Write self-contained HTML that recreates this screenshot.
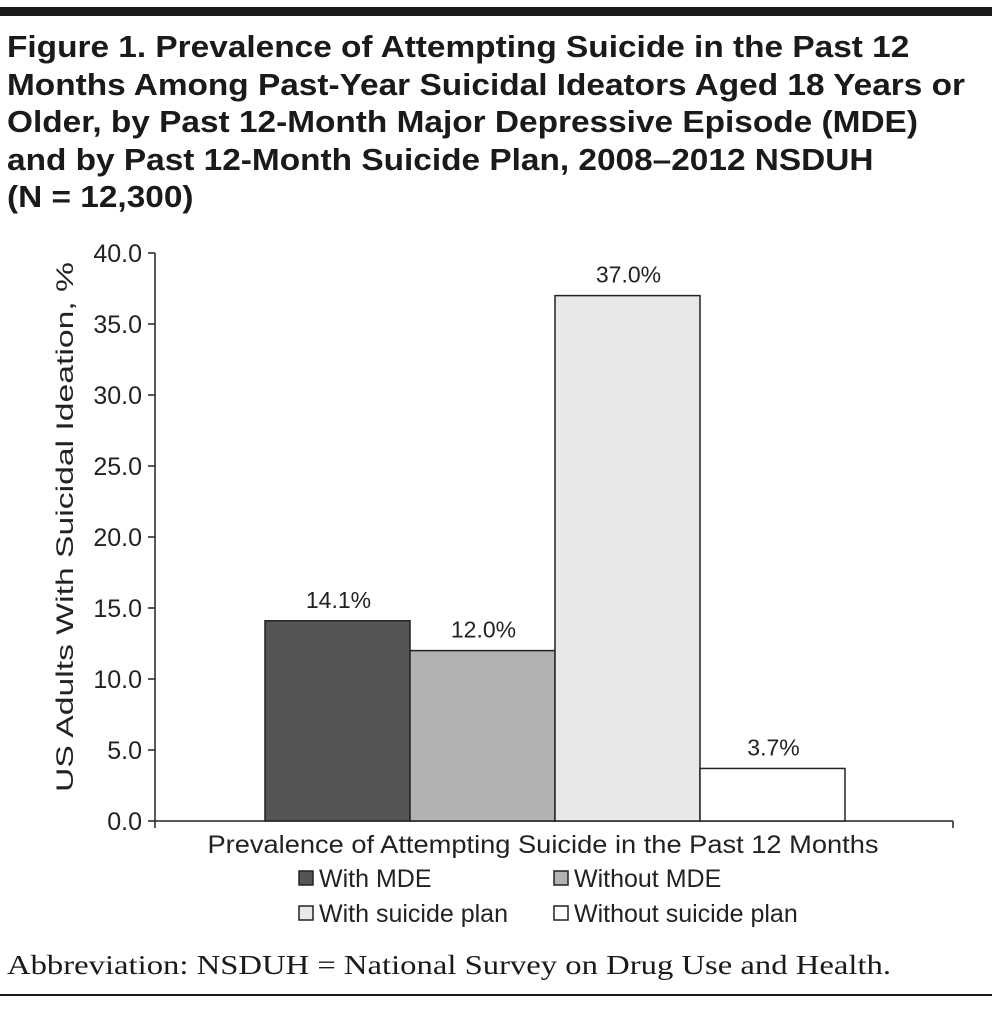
<!DOCTYPE html>
<html><head><meta charset="utf-8"><style>
body{margin:0;background:#fff;width:1001px;height:1011px;overflow:hidden;position:relative;font-family:"Liberation Sans",sans-serif}
.t{position:absolute;left:7px;top:28px;font-weight:bold;font-size:31px;line-height:37.5px;color:#1a1a1a;transform:scaleX(1.077);transform-origin:0 0;white-space:nowrap}
</style></head><body>
<div style="position:absolute;left:0;top:7px;width:992px;height:9px;background:#1a1a1a"></div>
<div class="t">Figure 1. Prevalence of Attempting Suicide in the Past 12<br>Months Among Past-Year Suicidal Ideators Aged 18 Years or<br>Older, by Past 12-Month Major Depressive Episode (MDE)<br>and by Past 12-Month Suicide Plan, 2008–2012 NSDUH<br>(N = 12,300)</div>
<svg id="c" width="1001" height="1011" style="position:absolute;left:0;top:0"></svg>
<div style="position:absolute;left:7px;top:950px;font-family:'Liberation Serif',serif;font-size:27px;color:#1a1a1a;transform:scaleX(1.21);transform-origin:0 0;white-space:nowrap">Abbreviation: NSDUH = National Survey on Drug Use and Health.</div>
<div style="position:absolute;left:0;top:994px;width:992px;height:2px;background:#1a1a1a"></div>
<script>
const categories=["With MDE","Without MDE","With suicide plan","Without suicide plan"];
const values=[14.1,12.0,37.0,3.7];
const colors=["#555555","#b2b2b2","#e8e8e8","#ffffff"];
const ticks=[0,5,10,15,20,25,30,35,40];
const svg=document.getElementById('c');const NS='http://www.w3.org/2000/svg';
function y(v){return 821-v*(568/40);}
function mk(t,a,txt){const e=document.createElementNS(NS,t);for(const k in a)e.setAttribute(k,a[k]);if(txt!=null)e.textContent=txt;svg.appendChild(e);return e;}
let e=mk('line',{x1:155,y1:253,x2:155,y2:822,stroke:'#222','stroke-width':1.5});

e=mk('line',{x1:155,y1:821,x2:953,y2:821,stroke:'#222','stroke-width':1.5});

[155,953].forEach(x=>{mk('line',{x1:x,y1:821,x2:x,y2:828,stroke:'#222','stroke-width':1.5});});
ticks.forEach(t=>{mk('line',{x1:148,y1:y(t),x2:155,y2:y(t),stroke:'#222','stroke-width':1.5});
e=mk('text',{x:142,y:y(t)+9,'text-anchor':'end','font-size':25,fill:'#222'},t.toFixed(1));
});
e=mk('text',{x:0,y:0,transform:'translate(73,527) rotate(-90)','text-anchor':'middle','font-size':24,fill:'#222',textLength:530,lengthAdjust:'spacingAndGlyphs'},'US Adults With Suicidal Ideation, %');

const bw=145,x0=265;
values.forEach((v,i)=>{const x=x0+i*bw;
e=mk('rect',{x:x,y:y(v),width:bw,height:821-y(v),fill:colors[i],stroke:'#222','stroke-width':1.5});

e=mk('text',{x:x+bw/2+1,y:y(v)-13,'text-anchor':'middle','font-size':23,fill:'#222'},v.toFixed(1)+'%');
});
e=mk('text',{x:543,y:853,'text-anchor':'middle','font-size':25,fill:'#222',textLength:671,lengthAdjust:'spacingAndGlyphs'},'Prevalence of Attempting Suicide in the Past 12 Months');

const lx=[299,554,299,554],ly=[886,886,921,921];
categories.forEach((c,i)=>{
e=mk('rect',{x:lx[i],y:ly[i]-15,width:14,height:14,fill:colors[i],stroke:'#222','stroke-width':1.5});

e=mk('text',{x:lx[i]+20,y:ly[i]+1,'font-size':25,fill:'#222'},c);
});
</script>
</body></html>
